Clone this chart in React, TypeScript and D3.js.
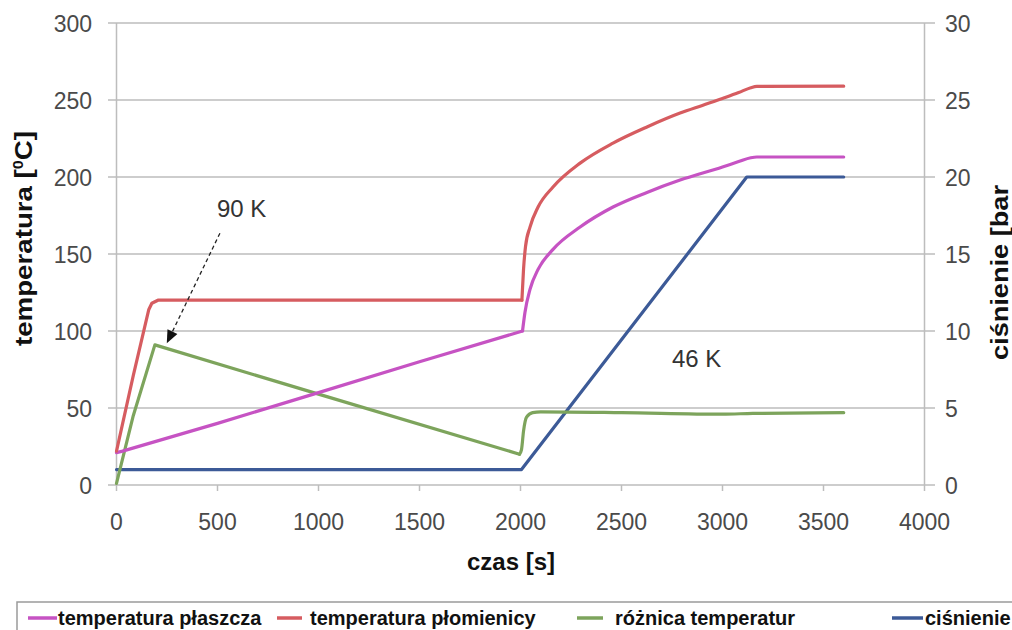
import React, { useEffect, useRef } from "react";
import * as d3 from "d3";

// czas [s] -> wartość
const tempPlaszcza: [number, number][] = [
  [0, 21], [30, 22], [500, 40], [1000, 60], [1500, 80], [2010, 100],
  [2022, 112], [2047, 127], [2087, 140], [2161, 153], [2295, 167.5],
  [2458, 180.5], [2626, 190], [2790, 198], [3000, 206.5], [3080, 210],
  [3140, 212.5], [3170, 213], [3600, 213],
];

const tempPlomienicy: [number, number][] = [
  [0, 22], [83, 71], [160, 114], [175, 118], [205, 120], [2007, 120],
  [2015, 140], [2025, 155], [2047, 167.5], [2087, 180.5], [2161, 193.5],
  [2295, 209], [2458, 222], [2626, 232.5], [2790, 241.5], [2900, 246.5],
  [3000, 251], [3080, 254.8], [3140, 258], [3170, 258.8], [3600, 259],
];

const roznicaTemp: [number, number][] = [
  [0, 1], [83, 45], [190, 91], [1000, 59], [1995, 20], [2005, 23],
  [2015, 35], [2030, 44], [2060, 47], [2100, 47.5], [2500, 47],
  [3000, 46], [3150, 46.5], [3600, 47],
];

const cisnienie: [number, number][] = [
  [0, 1], [2005, 1], [3120, 20], [3600, 20],
];

const xTicks = [0, 500, 1000, 1500, 2000, 2500, 3000, 3500, 4000];
const yLeftTicks = [0, 50, 100, 150, 200, 250, 300];
const yRightTicks = [0, 5, 10, 15, 20, 25, 30];

const legendItems = [
  { label: "temperatura płaszcza", color: "#c653c3" },
  { label: "temperatura płomienicy", color: "#d65c60" },
  { label: "różnica temperatur", color: "#7da45c" },
  { label: "ciśnienie", color: "#3c5a97" },
];

const FONT = "'Liberation Sans', Arial, sans-serif";

export default function App() {
  const ref = useRef<SVGSVGElement>(null);

  useEffect(() => {
    const svg = d3.select(ref.current);
    svg.selectAll("*").remove();

    const x = d3.scaleLinear().domain([0, 4000]).range([116.5, 924.5]);
    const yL = d3.scaleLinear().domain([0, 300]).range([485, 23]);
    const yR = d3.scaleLinear().domain([0, 30]).range([485, 23]);

    const grid = svg.append("g");
    // poziome linie siatki
    grid
      .selectAll("line.h")
      .data(yLeftTicks)
      .enter()
      .append("line")
      .attr("x1", 108)
      .attr("x2", 935)
      .attr("y1", (d) => yL(d))
      .attr("y2", (d) => yL(d))
      .attr("stroke", "#bdbdbd")
      .attr("stroke-width", 1.5);
    // osie pionowe
    [0, 4000].forEach((t) => {
      grid
        .append("line")
        .attr("x1", x(t))
        .attr("x2", x(t))
        .attr("y1", yL(300))
        .attr("y2", yL(0))
        .attr("stroke", "#bdbdbd")
        .attr("stroke-width", 1.5);
    });
    grid
      .selectAll("line.xt")
      .data(xTicks)
      .enter()
      .append("line")
      .attr("x1", (d) => x(d))
      .attr("x2", (d) => x(d))
      .attr("y1", yL(0))
      .attr("y2", yL(0) + 6)
      .attr("stroke", "#bdbdbd")
      .attr("stroke-width", 1.5);

    // etykiety osi
    svg
      .append("g")
      .selectAll("text")
      .data(xTicks)
      .enter()
      .append("text")
      .attr("x", (d) => x(d))
      .attr("y", 530)
      .attr("text-anchor", "middle")
      .attr("font-family", FONT)
      .attr("font-size", 23)
      .attr("fill", "#4a4a4a")
      .text((d) => d);
    svg
      .append("g")
      .selectAll("text")
      .data(yLeftTicks)
      .enter()
      .append("text")
      .attr("x", 92)
      .attr("y", (d) => yL(d) + 8.5)
      .attr("text-anchor", "end")
      .attr("font-family", FONT)
      .attr("font-size", 23)
      .attr("fill", "#4a4a4a")
      .text((d) => d);
    svg
      .append("g")
      .selectAll("text")
      .data(yRightTicks)
      .enter()
      .append("text")
      .attr("x", 945)
      .attr("y", (d) => yR(d) + 8.5)
      .attr("font-family", FONT)
      .attr("font-size", 23)
      .attr("fill", "#4a4a4a")
      .text((d) => d);

    // serie: odcinki proste liniowo, część po 2000 s wygładzona
    const straight = d3
      .line<[number, number]>()
      .x((d) => x(d[0]))
      .y((d) => yL(d[1]));
    const smooth = d3
      .line<[number, number]>()
      .x((d) => x(d[0]))
      .y((d) => yL(d[1]))
      .curve(d3.curveMonotoneX);
    const lineR = d3
      .line<[number, number]>()
      .x((d) => x(d[0]))
      .y((d) => yR(d[1]));

    const drawPath = (d: string | null, color: string) => {
      svg
        .append("path")
        .attr("d", d)
        .attr("fill", "none")
        .attr("stroke", color)
        .attr("stroke-width", 3.2)
        .attr("stroke-linejoin", "round")
        .attr("stroke-linecap", "round");
    };

    drawPath(lineR(cisnienie), legendItems[3].color);

    const leftSeries: [[number, number][], string, number][] = [
      [roznicaTemp, legendItems[2].color, 1995],
      [tempPlaszcza, legendItems[0].color, 2010],
      [tempPlomienicy, legendItems[1].color, 2007],
    ];
    leftSeries.forEach(([data, color, split]) => {
      const a = data.filter((d) => d[0] <= split);
      const b = data.filter((d) => d[0] >= split);
      drawPath(straight(a), color);
      drawPath(smooth(b), color);
    });

    // adnotacje
    svg
      .append("text")
      .attr("x", x(497))
      .attr("y", yL(174))
      .attr("font-family", FONT)
      .attr("font-size", 24)
      .attr("fill", "#333")
      .text("90 K");
    svg
      .append("text")
      .attr("x", x(2750))
      .attr("y", yL(76.5))
      .attr("font-family", FONT)
      .attr("font-size", 24)
      .attr("fill", "#333")
      .text("46 K");

    const ax1 = x(512), ay1 = yL(163.5);
    const ax2 = x(249), ay2 = yL(92);
    const ang = Math.atan2(ay2 - ay1, ax2 - ax1);
    const len = 13, half = 5.5;
    const bx = ax2 - len * Math.cos(ang), by = ay2 - len * Math.sin(ang);
    svg
      .append("line")
      .attr("x1", ax1)
      .attr("y1", ay1)
      .attr("x2", bx)
      .attr("y2", by)
      .attr("stroke", "#222")
      .attr("stroke-width", 1.3)
      .attr("stroke-dasharray", "4,3");
    svg
      .append("path")
      .attr(
        "d",
        `M${ax2},${ay2}L${bx - half * Math.sin(ang)},${by + half * Math.cos(ang)}L${bx + half * Math.sin(ang)},${by - half * Math.cos(ang)}Z`
      )
      .attr("fill", "#111");

    // tytuły osi
    svg
      .append("text")
      .attr("transform", "translate(32,238.5) rotate(-90)")
      .attr("text-anchor", "middle")
      .attr("font-family", FONT)
      .attr("font-size", 24)
      .attr("font-weight", "bold")
      .attr("fill", "#111")
      .attr("textLength", 215)
      .attr("lengthAdjust", "spacingAndGlyphs")
      .html(
        'temperatura [<tspan font-size="14" dy="-9">0</tspan><tspan dy="9">C]</tspan>'
      );
    svg
      .append("text")
      .attr("transform", "translate(1008,272.5) rotate(-90)")
      .attr("text-anchor", "middle")
      .attr("font-family", FONT)
      .attr("font-size", 23)
      .attr("font-weight", "bold")
      .attr("fill", "#111")
      .attr("textLength", 175)
      .attr("lengthAdjust", "spacingAndGlyphs")
      .text("ciśnienie [bar");
    svg
      .append("text")
      .attr("x", 511)
      .attr("y", 570)
      .attr("text-anchor", "middle")
      .attr("font-family", FONT)
      .attr("font-size", 24)
      .attr("font-weight", "bold")
      .attr("fill", "#111")
      .text("czas [s]");

    // legenda
    const legend = svg.append("g");
    legend
      .append("rect")
      .attr("x", 17)
      .attr("y", 602)
      .attr("width", 1010)
      .attr("height", 40)
      .attr("fill", "white")
      .attr("stroke", "#9a9a9a")
      .attr("stroke-width", 1.5);
    const swatches = [
      [28, 57, 58],
      [277, 302, 310],
      [577, 603, 615],
      [892, 923, 925],
    ];
    legendItems.forEach((item, i) => {
      const [s1, s2, tx] = swatches[i];
      legend
        .append("line")
        .attr("x1", s1)
        .attr("x2", s2)
        .attr("y1", 618)
        .attr("y2", 618)
        .attr("stroke", item.color)
        .attr("stroke-width", 3.5);
      legend
        .append("text")
        .attr("x", tx)
        .attr("y", 625)
        .attr("font-family", FONT)
        .attr("font-size", 20)
        .attr("font-weight", "bold")
        .attr("fill", "#111")
        .text(item.label);
    });
  }, []);

  return (
    <svg
      ref={ref}
      width={1012}
      height={630}
      style={{ position: "absolute", left: 0, top: 0, background: "white" }}
    ></svg>
  );
}
